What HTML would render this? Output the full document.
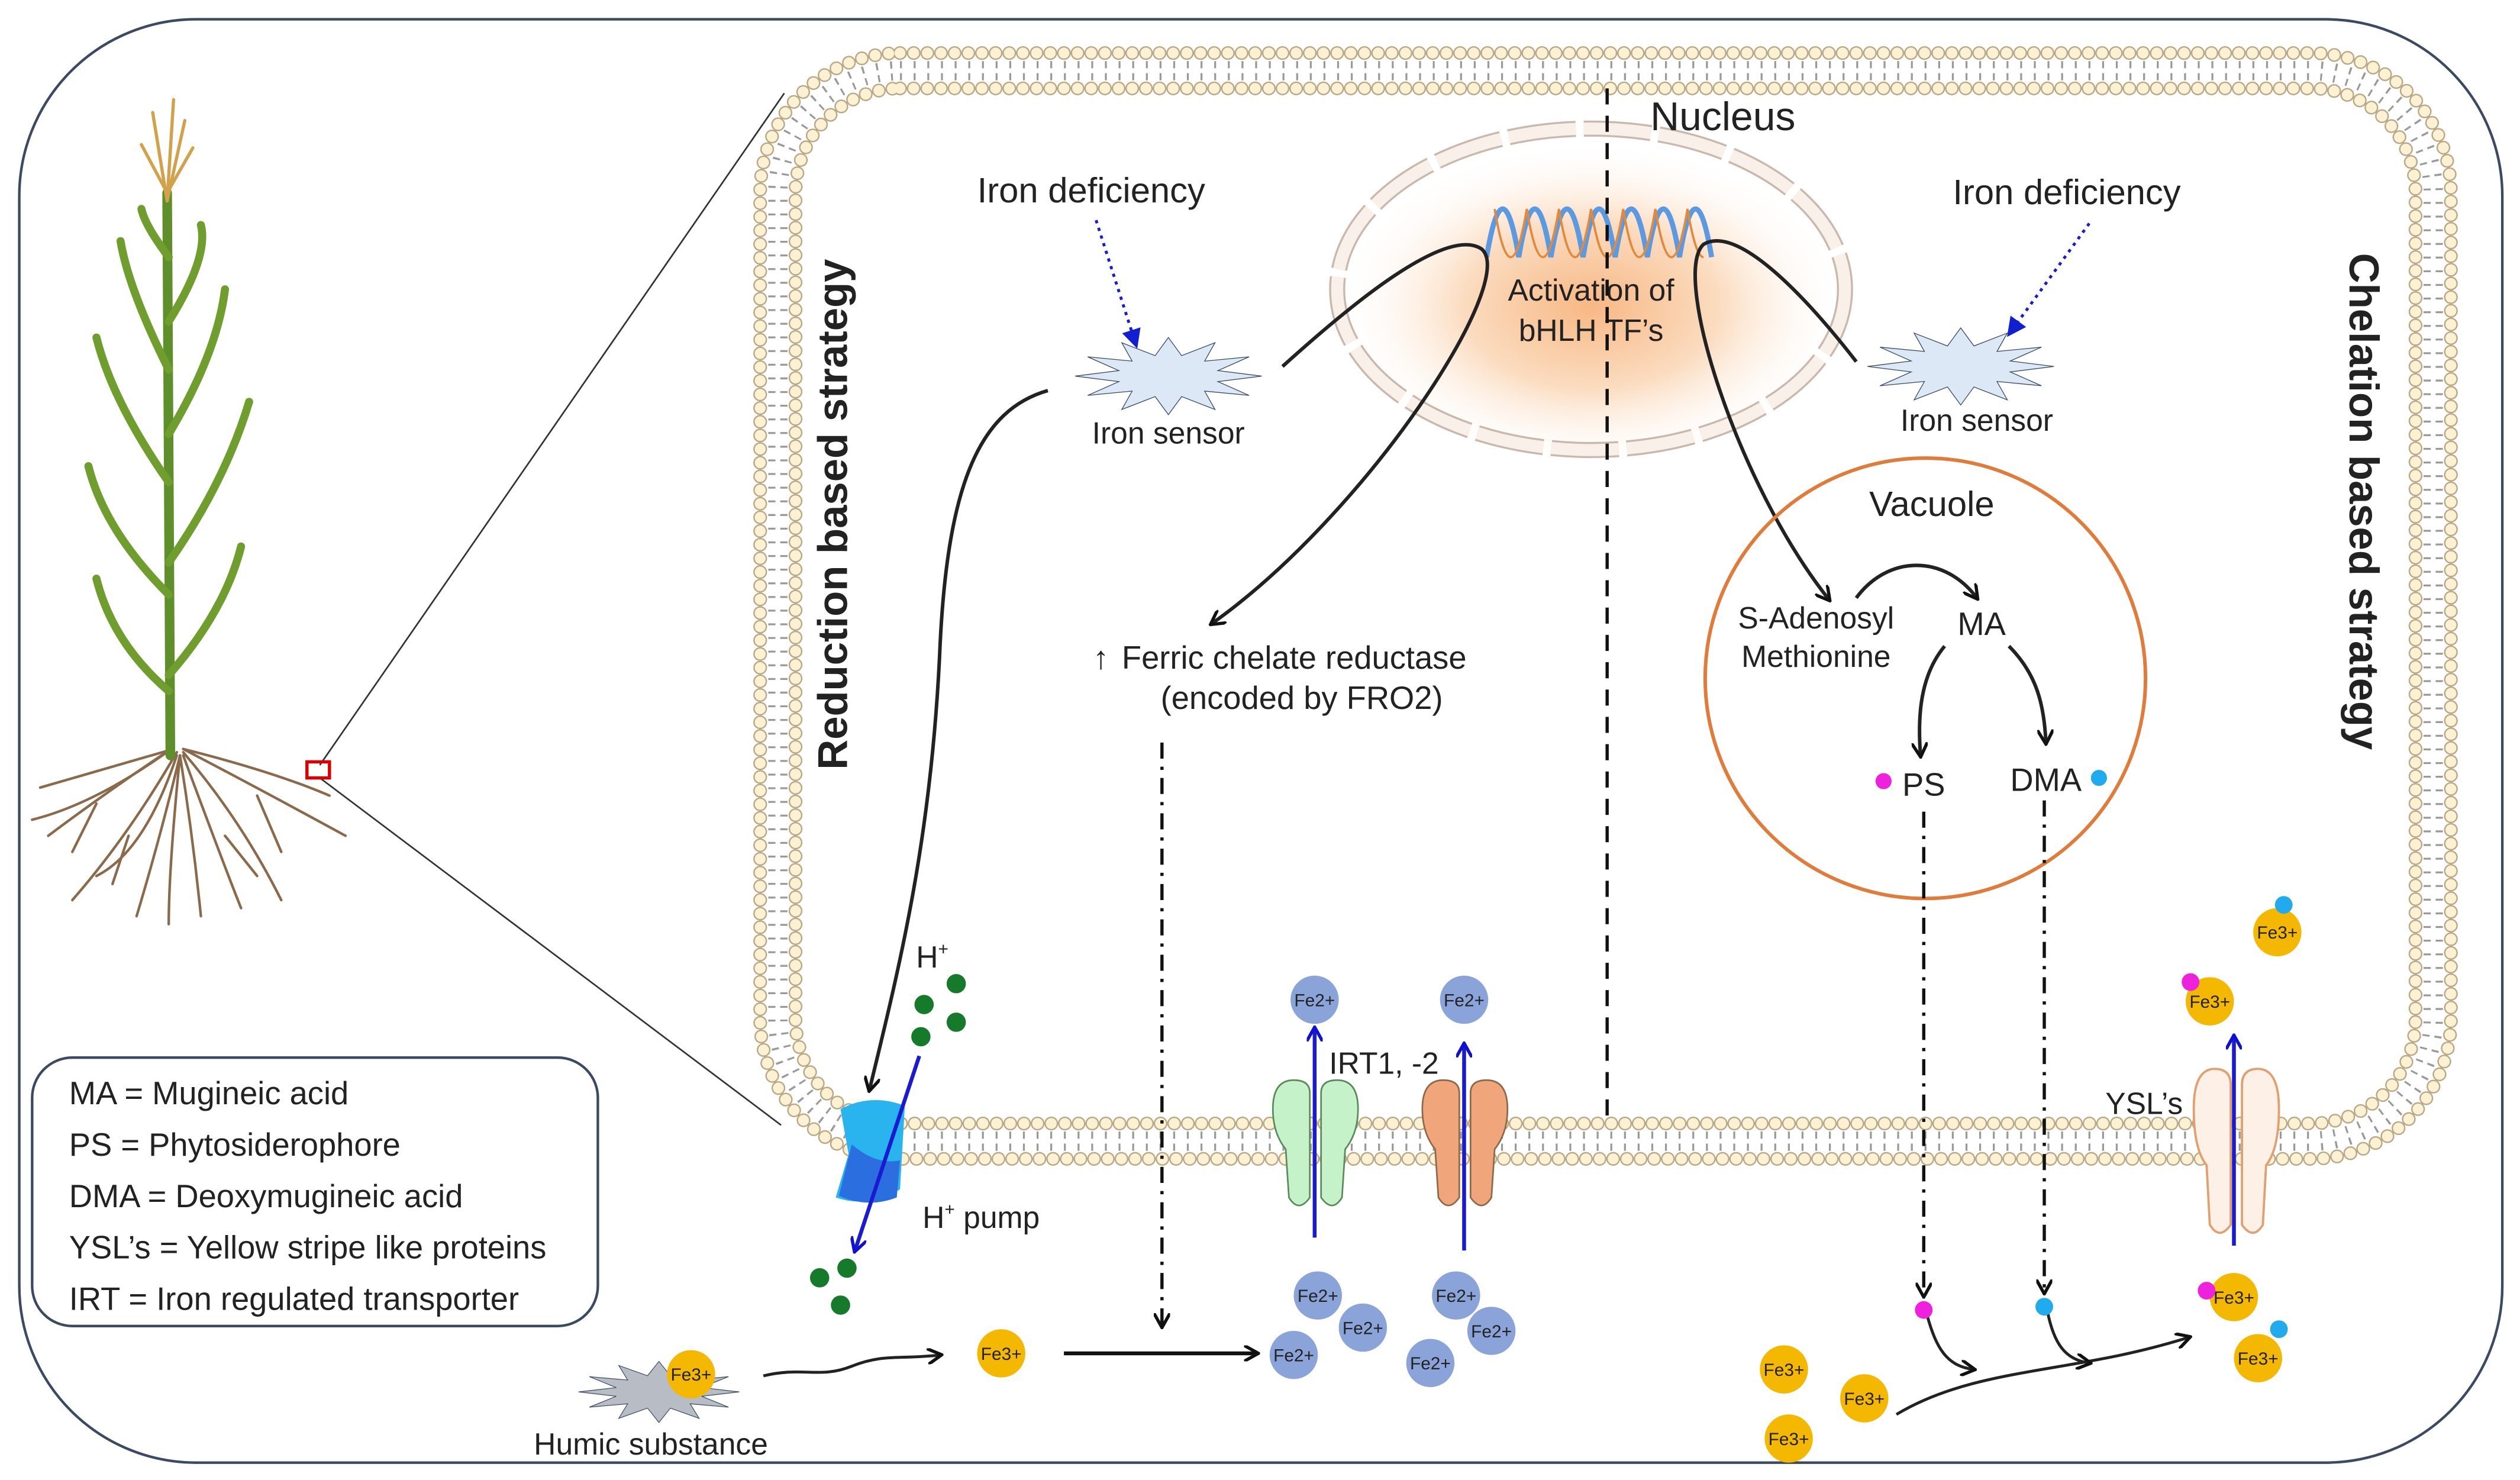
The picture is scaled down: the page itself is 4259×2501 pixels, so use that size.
<!DOCTYPE html>
<html><head><meta charset="utf-8"><style>
html,body{margin:0;padding:0;background:#fff}
svg{display:block}
text{font-family:"Liberation Sans",Arial,sans-serif;fill:#222}
</style></head><body>
<svg width="4259" height="2501" viewBox="0 0 1568 920.8" preserveAspectRatio="none" xmlns="http://www.w3.org/2000/svg">
<defs>
<radialGradient id="ng" cx="0.5" cy="0.55" r="0.5">
<stop offset="0" stop-color="#f7b884"/><stop offset="0.5" stop-color="#fbdcc0"/><stop offset="1" stop-color="#fff" stop-opacity="0"/>
</radialGradient>
<marker id="ah" markerWidth="10" markerHeight="10" refX="8" refY="5" orient="auto" markerUnits="userSpaceOnUse"><path d="M0,0 L9,5 L0,10" fill="none" stroke="#111" stroke-width="2"/></marker>
<marker id="ahb" markerWidth="10" markerHeight="10" refX="8" refY="5" orient="auto" markerUnits="userSpaceOnUse"><path d="M0,0 L9,5 L0,10" fill="none" stroke="#1010d0" stroke-width="2"/></marker>
<marker id="ahf" markerWidth="12" markerHeight="12" refX="10" refY="6" orient="auto" markerUnits="userSpaceOnUse"><path d="M0,0 L12,6 L0,12 Z" fill="#1020d0"/></marker>
</defs>
<rect width="1568" height="920.8" fill="#fff"/>
<rect x="12" y="12" width="1545" height="898" rx="110" fill="none" stroke="#3b4a62" stroke-width="1.6"/>
<line x1="199" y1="476" x2="488" y2="58" stroke="#333" stroke-width="1"/>
<line x1="199" y1="484" x2="486" y2="700" stroke="#333" stroke-width="1"/>
<rect x="191" y="474" width="14" height="10" fill="none" stroke="#d00" stroke-width="2"/>
<!-- membrane -->
<g fill="none">
<rect x="484" y="44" width="1030" height="666" rx="76" stroke="#9a9a9a" stroke-width="12" stroke-dasharray="1.2 7.3"/>
<rect x="484" y="44" width="1030" height="666" rx="76" stroke="#fff" stroke-width="3"/>
<rect x="473" y="33" width="1052" height="688" rx="87" stroke="#b9a986" stroke-width="8.6" stroke-dasharray="0 8.5" stroke-linecap="round"/>
<rect x="473" y="33" width="1052" height="688" rx="87" stroke="#fcf1d2" stroke-width="6.8" stroke-dasharray="0 8.5" stroke-linecap="round"/>
<rect x="495" y="55" width="1008" height="644" rx="65" stroke="#b9a986" stroke-width="8.6" stroke-dasharray="0 8.5" stroke-linecap="round"/>
<rect x="495" y="55" width="1008" height="644" rx="65" stroke="#fcf1d2" stroke-width="6.8" stroke-dasharray="0 8.5" stroke-linecap="round"/>
</g>
<!-- plant -->
<g fill="none" stroke-linecap="round">
<g stroke="#8a6a4a" stroke-width="1.6">
<path d="M108,465 Q70,490 30,520"/><path d="M108,465 Q60,500 20,510"/><path d="M110,468 Q80,520 45,560"/><path d="M112,470 Q100,520 85,570"/><path d="M112,470 Q120,520 125,570"/><path d="M114,468 Q150,510 175,560"/><path d="M114,466 Q160,490 215,520"/><path d="M114,466 Q170,480 205,495"/><path d="M108,466 Q60,480 25,490"/><path d="M110,470 Q90,530 60,545"/><path d="M114,470 Q140,540 150,565"/><path d="M112,470 Q105,540 105,575"/><path d="M60,500 L45,530"/><path d="M160,495 L175,530"/><path d="M80,520 L70,550"/><path d="M140,520 L160,545"/>
</g>
<path d="M106,470 L104,120" stroke="#5f8f2a" stroke-width="6"/>
<g stroke="#d2a24a" stroke-width="2"><path d="M104,125 L95,70"/><path d="M104,125 L108,62"/><path d="M104,125 L115,75"/><path d="M104,120 L88,90"/><path d="M104,120 L120,92"/></g>
<g stroke="#6f9e2e" stroke-width="5">
<path d="M105,430 Q70,400 60,360"/><path d="M105,420 Q140,380 150,340"/><path d="M105,370 Q65,330 55,290"/><path d="M105,350 Q140,300 155,250"/><path d="M105,300 Q70,250 60,210"/><path d="M105,270 Q135,220 140,180"/><path d="M105,230 Q80,180 75,150"/><path d="M105,200 Q130,160 125,140"/><path d="M105,160 Q90,140 88,130"/>
</g>
</g>
<!-- legend -->
<rect x="20" y="658" width="352" height="167" rx="25" fill="#fff" stroke="#3b4a62" stroke-width="1.6"/>
<g font-size="20">
<text x="43" y="687">MA  = Mugineic acid</text>
<text x="43" y="719">PS  = Phytosiderophore</text>
<text x="43" y="751">DMA = Deoxymugineic acid</text>
<text x="43" y="783">YSL’s = Yellow stripe like proteins</text>
<text x="43" y="815">IRT = Iron regulated transporter</text>
</g>
<text transform="translate(527,320) rotate(-90)" text-anchor="middle" font-size="26" font-weight="bold">Reduction based strategy</text>
<text transform="translate(1462,312) rotate(90)" text-anchor="middle" font-size="26" font-weight="bold">Chelation based strategy</text>
<!-- nucleus -->
<ellipse cx="990" cy="180" rx="160" ry="103" fill="url(#ng)"/>
<ellipse cx="990" cy="180" rx="158" ry="100" fill="none" stroke="#c8b8ae" stroke-width="10" stroke-dasharray="42 5"/>
<ellipse cx="990" cy="180" rx="158" ry="100" fill="none" stroke="#faf0ea" stroke-width="7.5" stroke-dasharray="42 5"/>
<g fill="none">
<path d="M925,160 q5,-30 10,-30 q5,0 10,30 q5,-30 10,-30 q5,0 10,30 q5,-30 10,-30 q5,0 10,30 q5,-30 10,-30 q5,0 10,30 q5,-30 10,-30 q5,0 10,30 q5,-30 10,-30 q5,0 10,30 q5,-30 10,-30 q5,0 10,30" stroke="#5b9ae0" stroke-width="3.2"/>
<path d="M930,130 q5,30 10,30 q5,0 10,-30 q5,30 10,30 q5,0 10,-30 q5,30 10,30 q5,0 10,-30 q5,30 10,30 q5,0 10,-30 q5,30 10,30 q5,0 10,-30 q5,30 10,30 q5,0 10,-30 q5,30 10,30" stroke="#e08a40" stroke-width="1.4"/>
</g>
<text x="1072" y="81" font-size="25" text-anchor="middle">Nucleus</text>
<text x="990" y="187" font-size="19" text-anchor="middle">Activation of</text>
<text x="990" y="212" font-size="19" text-anchor="middle">bHLH TF’s</text>
<line x1="1000" y1="55" x2="1000" y2="695" stroke="#111" stroke-width="2" stroke-dasharray="10 7"/>
<text x="679" y="126" font-size="22" text-anchor="middle">Iron deficiency</text>
<text x="1286" y="127" font-size="22" text-anchor="middle">Iron deficiency</text>
<line x1="682" y1="137" x2="707" y2="215" stroke="#1a1ad0" stroke-width="1.8" stroke-dasharray="2 3" marker-end="url(#ahf)"/>
<line x1="1300" y1="139" x2="1250" y2="208" stroke="#1a1ad0" stroke-width="1.8" stroke-dasharray="2 3" marker-end="url(#ahf)"/>
<polygon transform="translate(727,234) scale(58,24)" vector-effect="non-scaling-stroke" fill="#dce8f6" stroke="#3a4a62" stroke-width="1.3" points="1,0 .531,.142 .866,.5 .389,.389 .5,.866 .142,.531 0,1 -.142,.531 -.5,.866 -.389,.389 -.866,.5 -.531,.142 -1,0 -.531,-.142 -.866,-.5 -.389,-.389 -.5,-.866 -.142,-.531 0,-1 .142,-.531 .5,-.866 .389,-.389 .866,-.5 .531,-.142"/>
<polygon transform="translate(1220,228) scale(58,24)" vector-effect="non-scaling-stroke" fill="#dce8f6" stroke="#3a4a62" stroke-width="1.3" points="1,0 .531,.142 .866,.5 .389,.389 .5,.866 .142,.531 0,1 -.142,.531 -.5,.866 -.389,.389 -.866,.5 -.531,.142 -1,0 -.531,-.142 -.866,-.5 -.389,-.389 -.5,-.866 -.142,-.531 0,-1 .142,-.531 .5,-.866 .389,-.389 .866,-.5 .531,-.142"/>
<text x="727" y="276" font-size="19" text-anchor="middle">Iron sensor</text>
<text x="1230" y="268" font-size="19" text-anchor="middle">Iron sensor</text>
<g fill="none" stroke="#222" stroke-width="2.2">
<path d="M798,228 C840,190 900,140 922,155 C945,175 850,320 754,388" marker-end="url(#ah)"/>
<path d="M1155,225 C1120,180 1080,140 1060,152 C1040,170 1080,300 1138,373" marker-end="url(#ah)"/>
<path d="M652,243 C610,255 590,300 585,400 C580,520 560,600 541,678" marker-end="url(#ah)"/>
</g>
<text x="680" y="416" font-size="20">↑</text>
<text x="698" y="416" font-size="20">Ferric chelate reductase</text>
<text x="810" y="441" font-size="20" text-anchor="middle">(encoded by FRO2)</text>
<line x1="723" y1="462" x2="723" y2="825" stroke="#111" stroke-width="2" stroke-dasharray="10 5 2 5" marker-end="url(#ah)"/>
<circle cx="1198" cy="422" r="137" fill="none" stroke="#e07b39" stroke-width="2.2"/>
<text x="1202" y="321" font-size="22" text-anchor="middle">Vacuole</text>
<text x="1130" y="391" font-size="19" text-anchor="middle">S-Adenosyl</text>
<text x="1130" y="415" font-size="19" text-anchor="middle">Methionine</text>
<text x="1233" y="395" font-size="20" text-anchor="middle">MA</text>
<text x="1197" y="495" font-size="20" text-anchor="middle">PS</text>
<text x="1273" y="492" font-size="20" text-anchor="middle">DMA</text>
<circle cx="1172" cy="486" r="5" fill="#ee22dd"/>
<circle cx="1306" cy="484" r="5" fill="#22aaee"/>
<g fill="none" stroke="#222" stroke-width="2.2">
<path d="M1155,372 C1175,345 1210,345 1230,372" marker-end="url(#ah)"/>
<path d="M1210,402 C1195,420 1193,445 1195,470" marker-end="url(#ah)"/>
<path d="M1250,402 C1268,420 1272,440 1273,462" marker-end="url(#ah)"/>
</g>
<line x1="1197" y1="505" x2="1197" y2="806" stroke="#111" stroke-width="2" stroke-dasharray="10 5 2 5" marker-end="url(#ah)"/>
<line x1="1272" y1="498" x2="1272" y2="804" stroke="#111" stroke-width="2" stroke-dasharray="10 5 2 5" marker-end="url(#ah)"/>
<!-- H+ pump -->
<path d="M523,690 Q542,680 563,688 L560,740 Q540,752 520,745 L528,718 Z" fill="#29b4f0"/>
<path d="M530,712 Q545,725 560,722 L558,745 Q540,752 522,744 Z" fill="#2a6ee0"/>
<line x1="572" y1="657" x2="532" y2="778" stroke="#1a1ad0" stroke-width="2.4" marker-end="url(#ahb)"/>
<g fill="#157a2a"><circle cx="575" cy="625" r="6"/><circle cx="595" cy="612" r="6"/><circle cx="573" cy="645" r="6"/><circle cx="595" cy="636" r="6"/><circle cx="510" cy="795" r="6"/><circle cx="527" cy="789" r="6"/><circle cx="523" cy="812" r="6"/></g>
<text x="570" y="602" font-size="19">H<tspan font-size="11" dy="-8">+</tspan></text>
<text x="574" y="764" font-size="19">H<tspan font-size="11" dy="-8">+</tspan><tspan dy="8"> pump</tspan></text>
<!-- IRT -->
<path d="M805,672 Q792,672 792,690 Q792,705 800,715 L802,745 Q808,755 815,745 L815,680 Q815,672 805,672 Z M832,672 Q845,672 845,690 Q845,705 837,715 L835,745 Q829,755 822,745 L822,680 Q822,672 832,672 Z" fill="#c5f2c8" stroke="#5a8a5a" stroke-width="1"/>
<path d="M898,672 Q885,672 885,690 Q885,705 893,715 L895,745 Q901,755 908,745 L908,680 Q908,672 898,672 Z M925,672 Q938,672 938,690 Q938,705 930,715 L928,745 Q922,755 915,745 L915,680 Q915,672 925,672 Z" fill="#f0a67a" stroke="#8a6a4a" stroke-width="1"/>
<line x1="818" y1="770" x2="818" y2="640" stroke="#1a1ad0" stroke-width="2.4" marker-end="url(#ahb)"/>
<line x1="911" y1="778" x2="911" y2="650" stroke="#1a1ad0" stroke-width="2.4" marker-end="url(#ahb)"/>
<text x="827" y="668" font-size="19">IRT1, -2</text>
<g font-size="11" text-anchor="middle">
<g fill="#8aa3d8">
<circle cx="818" cy="622" r="15"/><circle cx="911" cy="622" r="15"/>
<circle cx="820" cy="806" r="15"/><circle cx="848" cy="826" r="15"/><circle cx="805" cy="843" r="15"/>
<circle cx="906" cy="806" r="15"/><circle cx="928" cy="828" r="15"/><circle cx="890" cy="848" r="15"/>
</g>
<text x="818" y="626">Fe2+</text><text x="911" y="626">Fe2+</text>
<text x="820" y="810">Fe2+</text><text x="848" y="830">Fe2+</text><text x="805" y="847">Fe2+</text>
<text x="906" y="810">Fe2+</text><text x="928" y="832">Fe2+</text><text x="890" y="852">Fe2+</text>
</g>
<!-- humic -->
<polygon transform="translate(410,866) scale(50,19)" vector-effect="non-scaling-stroke" fill="#b8bcc4" stroke="#3a4a62" stroke-width="1.2" points="1,0 .531,.142 .866,.5 .389,.389 .5,.866 .142,.531 0,1 -.142,.531 -.5,.866 -.389,.389 -.866,.5 -.531,.142 -1,0 -.531,-.142 -.866,-.5 -.389,-.389 -.5,-.866 -.142,-.531 0,-1 .142,-.531 .5,-.866 .389,-.389 .866,-.5 .531,-.142"/>
<text x="405" y="905" font-size="19" text-anchor="middle">Humic substance</text>
<path d="M475,856 C500,850 510,858 530,850 C550,842 560,846 585,843" fill="none" stroke="#222" stroke-width="1.8" marker-end="url(#ah)"/>
<line x1="662" y1="842" x2="782" y2="842" stroke="#111" stroke-width="2.4" marker-end="url(#ah)"/>
<!-- YSL -->
<path d="M1378,665 Q1365,665 1365,690 Q1365,715 1373,725 L1375,762 Q1381,772 1388,762 L1388,675 Q1388,665 1378,665 Z M1405,665 Q1418,665 1418,690 Q1418,715 1410,725 L1408,762 Q1402,772 1395,762 L1395,675 Q1395,665 1405,665 Z" fill="#fdf0e6" stroke="#e0a070" stroke-width="1.4"/>
<line x1="1390" y1="775" x2="1390" y2="645" stroke="#1a1ad0" stroke-width="2.4" marker-end="url(#ahb)"/>
<text x="1310" y="693" font-size="19">YSL’s</text>
<g fill="none" stroke="#222" stroke-width="1.8">
<path d="M1180,880 C1230,850 1290,855 1362,832" marker-end="url(#ah)"/>
<path d="M1199,818 C1205,840 1212,850 1228,852" marker-end="url(#ah)"/>
<path d="M1274,816 C1278,836 1285,846 1300,848" marker-end="url(#ah)"/>
</g>
<g font-size="11" text-anchor="middle">
<g fill="#f5b800">
<circle cx="430" cy="855" r="15"/><circle cx="623" cy="842" r="15"/>
<circle cx="1375" cy="623" r="15"/><circle cx="1417" cy="580" r="15"/>
<circle cx="1390" cy="807" r="15"/><circle cx="1405" cy="845" r="15"/>
<circle cx="1110" cy="852" r="15"/><circle cx="1160" cy="870" r="15"/><circle cx="1113" cy="895" r="15"/>
</g>
<text x="430" y="859">Fe3+</text><text x="623" y="846">Fe3+</text>
<text x="1375" y="627">Fe3+</text><text x="1417" y="584">Fe3+</text>
<text x="1390" y="811">Fe3+</text><text x="1405" y="849">Fe3+</text>
<text x="1110" y="856">Fe3+</text><text x="1160" y="874">Fe3+</text><text x="1113" y="899">Fe3+</text>
</g>
<g fill="#ee22dd"><circle cx="1363" cy="611" r="5.5"/><circle cx="1373" cy="803" r="5.5"/><circle cx="1197" cy="815" r="5.5"/></g>
<g fill="#22aaee"><circle cx="1421" cy="563" r="5.5"/><circle cx="1418" cy="827" r="5.5"/><circle cx="1272" cy="813" r="5.5"/></g>
</svg>
</body></html>
